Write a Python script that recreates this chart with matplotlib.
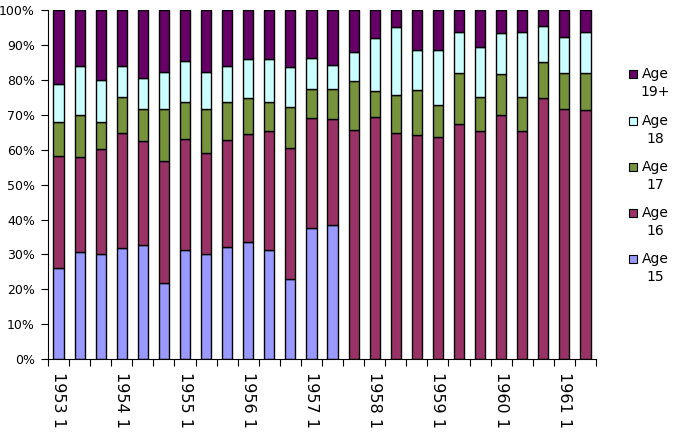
import numpy as np
from matplotlib import pyplot as plt
from matplotlib.patches import Rectangle

plt.rcParams['font.family'] = ['DejaVu Sans']

# three intakes per year, 1953 1 .. 1961 2
years = list(range(1953, 1962))
intakes = [1, 2, 3]
categories = ['{0} {1}'.format(y, i) for y in years for i in intakes][:26]

# percentage share of each age group per intake
age_15 = [26.1, 30.6, 30.1, 31.8, 32.8, 21.8, 31.3, 30.2, 32.1, 33.5, 31.3, 23.1, 37.6,
          38.3, 0, 0, 0, 0, 0, 0, 0, 0, 0, 0, 0, 0]
age_16 = [32.0, 27.3, 30.1, 33.0, 29.8, 35.1, 31.8, 28.8, 30.7, 30.9, 34.0, 37.4, 31.5,
          30.5, 65.6, 69.4, 64.8, 64.3, 63.7, 67.4, 65.4, 69.9, 65.4, 74.9, 71.6, 71.5]
age_17 = [9.8, 11.9, 7.7, 10.4, 9.2, 14.7, 10.5, 12.8, 10.9, 10.4, 8.3, 11.8, 8.2,
          8.7, 14.2, 7.5, 10.9, 12.9, 9.0, 14.5, 9.6, 11.7, 9.7, 10.2, 10.4, 10.5]
age_18 = [10.9, 14.2, 12.2, 8.8, 8.7, 10.8, 11.9, 10.6, 10.3, 11.3, 12.3, 11.5, 8.9,
          6.9, 8.2, 15.2, 19.5, 11.5, 16.0, 11.9, 14.3, 11.8, 18.5, 10.2, 10.2, 11.6]
age_19 = [21.2, 16.0, 19.9, 16.0, 19.5, 17.6, 14.5, 17.6, 16.0, 13.9, 14.1, 16.2, 13.8,
          15.6, 12.0, 7.9, 4.8, 11.3, 11.3, 6.2, 10.7, 6.6, 6.4, 4.7, 7.8, 6.4]

series = [('Age\n15', age_15, '#9999FF'),
          ('Age\n16', age_16, '#993366'),
          ('Age\n17', age_17, '#77933C'),
          ('Age\n18', age_18, '#CCFFFF'),
          ('Age\n19+', age_19, '#660066')]

figure = plt.figure(figsize=(6.83, 4.38), dpi=100)
axes1 = figure.add_axes([0.0703, 0.180, 0.8023, 0.797])

x = np.arange(len(categories))
bottom = np.zeros(len(categories))
for label, values, color in series:
    values = np.array(values, dtype=float)
    axes1.bar(x, values, bottom=bottom, width=0.48, color=color,
              edgecolor='black', linewidth=1.0, zorder=2)
    bottom += values

axes1.set_xlim(-0.5, len(categories) - 0.5)
axes1.set_ylim(0, 100)
axes1.set_yticks(np.arange(0, 101, 10))
axes1.set_yticklabels(['{0}%'.format(v) for v in range(0, 101, 10)], fontsize=9)
axes1.tick_params(axis='y', direction='out', length=5, width=0.8, pad=4.5, colors='black')

# tick marks between categories, labels every third category
axes1.set_xticks(np.arange(-0.5, len(categories), 1.0))
axes1.set_xticklabels([])
axes1.tick_params(axis='x', which='major', direction='out', length=5, width=0.8)
axes1.set_xticks(x[::3], minor=True)
axes1.set_xticklabels(categories[::3], minor=True, rotation=-90, fontsize=11.5,
                      va='top', ha='center')
axes1.tick_params(axis='x', which='minor', length=0, pad=9)

for side in ('top', 'right'):
    axes1.spines[side].set_visible(False)
for side in ('left', 'bottom'):
    axes1.spines[side].set_linewidth(0.8)

# legend, drawn by hand so the swatch sits on the first text line
legend_y = [259, 213, 167, 121, 74]
for (label, values, color), y_px in zip(series, legend_y):
    y_fig = 1 - y_px / 438.0
    figure.patches.append(Rectangle((629 / 683.0, y_fig - 4 / 438.0), 8 / 683.0, 8 / 438.0,
                                    facecolor=color, edgecolor='black', linewidth=0.8,
                                    transform=figure.transFigure, figure=figure))
    figure.text(655 / 683.0, y_fig + 7 / 438.0, label, ha='center', va='top',
                fontsize=10, linespacing=1.35, multialignment='center')

figure.savefig('out.png', dpi=100)
plt.close()
